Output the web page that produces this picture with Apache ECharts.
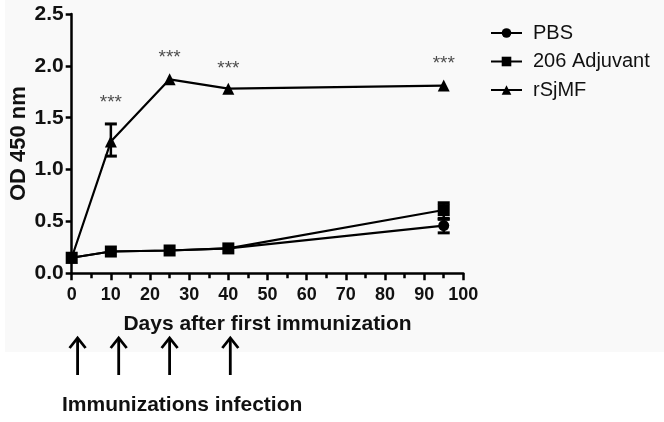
<!DOCTYPE html>
<html>
<head>
<meta charset="utf-8">
<script src="https://cdn.jsdelivr.net/npm/echarts@6/dist/echarts.min.js"></script>
<style>html,body{margin:0;padding:0;background:#fff}#c{width:664px;height:422px}</style>
</head>
<body>
<div id="c"></div>
<script>
var days = [0, 10, 25, 40, 95];
var pbs = [0.15, 0.21, 0.22, 0.24, 0.46];
var adjuvant = [0.15, 0.21, 0.22, 0.24, 0.61];
var rsjmf = [0.15, 1.27, 1.87, 1.78, 1.81];
// error bars: [day, low, high]
var errPbs = [[95, 0.39, 0.52]];
var errAdj = [[95, 0.53, 0.68]];
var errRsj = [[10, 1.13, 1.44]];
var starDays = [10, 25, 40, 95];
var starY = [1.64, 2.08, 1.97, 2.02];
var immunizationDays = [1.5, 12, 25, 40.5];
var xTicks = [0, 100, 10];
var yTicks = [0, 2.5, 0.5];

var FONT = 'Liberation Sans, Arial, sans-serif';
var chart = echarts.init(document.getElementById('c'), null, {renderer: 'canvas'});

function zip(xs, ys) { return xs.map(function (x, i) { return [x, ys[i]]; }); }

function errSeries(data) {
  return {
    type: 'custom',
    silent: true,
    z: 5,
    data: data,
    renderItem: function (params, api) {
      var x = api.value(0);
      var lo = api.coord([x, api.value(1)]);
      var hi = api.coord([x, api.value(2)]);
      var w = 6;
      var st = {stroke: '#000', lineWidth: 3};
      return {
        type: 'group',
        children: [
          {type: 'line', shape: {x1: lo[0], y1: lo[1], x2: hi[0], y2: hi[1]}, style: {stroke: '#000', lineWidth: 2.5}},
          {type: 'line', shape: {x1: lo[0] - w, y1: lo[1], x2: lo[0] + w, y2: lo[1]}, style: st},
          {type: 'line', shape: {x1: hi[0] - w, y1: hi[1], x2: hi[0] + w, y2: hi[1]}, style: st}
        ]
      };
    }
  };
}

function lineSeries(name, vals, symbol, size) {
  return {
    name: name, type: 'line', data: zip(days, vals),
    symbol: symbol, symbolSize: size,
    lineStyle: {color: '#000', width: 2.2},
    itemStyle: {color: '#000'},
    z: 4
  };
}

var option = {
  animation: false,
  backgroundColor: '#fff',
  grid: {left: 71.7, right: 200.7, top: 14, bottom: 148.7, containLabel: false, outerBoundsMode: 'none'},
  legend: {
    orient: 'vertical', left: 490, top: 23, padding: 0,
    itemWidth: 31, itemHeight: 12, itemGap: 8.5,
    textStyle: {fontFamily: FONT, fontSize: 20, color: '#111', padding: [0, 0, 0, 6]},
    data: ['PBS', '206 Adjuvant', 'rSjMF']
  },
  xAxis: {
    type: 'value', min: xTicks[0], max: xTicks[1], interval: xTicks[2],
    name: 'Days after first immunization', nameLocation: 'middle', nameGap: 40,
    nameTextStyle: {fontFamily: FONT, fontSize: 21, fontWeight: 'bold', color: '#111'},
    axisLine: {show: true, lineStyle: {color: '#000', width: 2.5}},
    axisTick: {show: true, length: 7, lineStyle: {color: '#000', width: 2.5}},
    minorTick: {show: true, splitNumber: 2, length: 5, lineStyle: {color: '#000', width: 2.5}},
    axisLabel: {fontFamily: FONT, fontSize: 18, fontWeight: 'bold', color: '#111', margin: 13},
    splitLine: {show: false}
  },
  yAxis: {
    type: 'value', min: yTicks[0], max: yTicks[1], interval: yTicks[2],
    name: 'OD 450 nm', nameLocation: 'middle', nameGap: 42, nameRotate: 90,
    nameMoveOverlap: false,
    nameTextStyle: {fontFamily: FONT, fontSize: 22, fontWeight: 'bold', color: '#111'},
    axisLine: {show: true, lineStyle: {color: '#000', width: 2.5}},
    axisTick: {show: true, length: 6, lineStyle: {color: '#000', width: 2.5}},
    axisLabel: {fontFamily: FONT, fontSize: 21, fontWeight: 'bold', color: '#111', margin: 8,
      formatter: function (v) { return v.toFixed(1); }},
    splitLine: {show: false}
  },
  series: [
    lineSeries('PBS', pbs, 'circle', 11),
    lineSeries('206 Adjuvant', adjuvant, 'rect', 12),
    lineSeries('rSjMF', rsjmf, 'triangle', 12),
    errSeries(errPbs),
    errSeries(errAdj),
    errSeries(errRsj),
    {
      type: 'scatter', silent: true, symbolSize: 0,
      data: zip(starDays, starY),
      label: {show: true, position: 'inside', formatter: '***',
        fontFamily: FONT, fontSize: 19, color: '#222'}
    }
  ]
};
chart.setOption(option);

// background panel, arrows and bottom caption
var arrowTop = 338, arrowBottom = 375;
var gfx = [{
  type: 'rect', z: -10, silent: true,
  shape: {x: 5, y: 0, width: 659, height: 352},
  style: {fill: '#f9f9f9'}
}];
immunizationDays.forEach(function (d) {
  var px = chart.convertToPixel({gridIndex: 0}, [d, 0])[0];
  gfx.push({type: 'line', shape: {x1: px, y1: arrowTop + 2, x2: px, y2: arrowBottom}, style: {stroke: '#000', lineWidth: 2.8}});
  gfx.push({type: 'polyline', shape: {points: [[px - 8, arrowTop + 10], [px, arrowTop], [px + 8, arrowTop + 10]]}, style: {stroke: '#000', lineWidth: 2.8, fill: null}});
});
gfx.push({
  type: 'text', left: 62, top: 395,
  style: {text: 'Immunizations infection', font: 'bold 21px ' + FONT, fill: '#111'}
});
chart.setOption({graphic: gfx});
</script>
</body>
</html>
